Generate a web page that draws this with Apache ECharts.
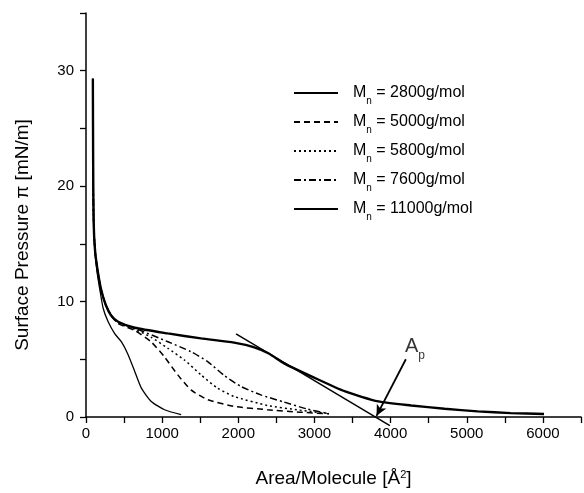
<!DOCTYPE html>
<html>
<head>
<meta charset="utf-8">
<script src="https://cdn.jsdelivr.net/npm/echarts@6/dist/echarts.min.js"></script>
<style>
  html, body { margin: 0; padding: 0; background: #fff; }
  #chart { width: 584px; height: 493px; }
</style>
</head>
<body>
<div id="chart"></div>
<script>
// isotherm data, [area (Å²), pressure (mN/m)]
const mn2800 = [[90, 29.3], [94, 22], [100, 17], [115, 14.5], [145, 12.6], [185, 10.9], [226, 9.4], [291, 8.25], [379, 7.2], [466, 6.5], [553, 5.4], [640, 3.95], [727, 2.5], [857, 1.35], [1031, 0.63], [1249, 0.2]]
const mn5000 = [[90, 29.3], [94, 22], [100, 17], [118, 14.5], [150, 12.8], [200, 11.0], [260, 9.7], [330, 8.8], [422, 8.1], [640, 7.5], [857, 6.5], [1031, 5.2], [1205, 3.65], [1379, 2.35], [1597, 1.5], [1945, 0.92], [2380, 0.63], [2800, 0.42], [3190, 0.28]]
const mn5800 = [[90, 29.3], [94, 22], [100, 17], [118, 14.5], [150, 12.8], [200, 11.0], [260, 9.7], [330, 8.8], [422, 8.15], [640, 7.6], [857, 6.9], [1075, 5.95], [1292, 4.94], [1510, 3.65], [1727, 2.5], [1945, 1.78], [2380, 1.0], [2800, 0.6], [3190, 0.3]]
const mn7600 = [[90, 29.3], [94, 22], [100, 17], [118, 14.5], [150, 12.8], [200, 11.0], [260, 9.7], [330, 8.8], [422, 8.2], [640, 7.7], [1075, 6.52], [1379, 5.66], [1597, 4.8], [1815, 3.6], [2033, 2.65], [2294, 1.92], [2598, 1.3], [2900, 0.7], [3190, 0.28]]
const mn11000 = [[90, 29.3], [94, 22], [100, 17], [118, 14.5], [150, 12.8], [200, 11.0], [260, 9.7], [330, 8.8], [422, 8.25], [640, 7.73], [1075, 7.24], [1510, 6.81], [1945, 6.44], [2200, 6.05], [2400, 5.5], [2600, 4.65], [2967, 3.5], [3403, 2.21], [3838, 1.35], [4270, 1.0], [4709, 0.72], [5144, 0.49], [5577, 0.34], [6014, 0.26]]
const tangent = [[1970, 7.2], [3990, -0.75]]
const arrowFrom = [4200, 5.0]
const arrowTo = [3815, 0.1]
const apLabelAt = [4320, 6.1]

const seriesNames = ['Mn = 2800g/mol', 'Mn = 5000g/mol', 'Mn = 5800g/mol', 'Mn = 7600g/mol', 'Mn = 11000g/mol']

const chart = echarts.init(document.getElementById('chart'))

const font = 'Liberation Sans, Arial, Helvetica, sans-serif'

const mkLine = (name, data, width, type) => ({
  name,
  type: 'line',
  data,
  showSymbol: false,
  symbol: 'none',
  smooth: 0.2,
  lineStyle: { color: '#000', width, type },
  itemStyle: { color: '#000' },
  z: 3
})

const option = {
  animation: false,
  textStyle: { fontFamily: font, color: '#000' },
  grid: { left: 86, right: 0, top: 13, bottom: 74 },
  legend: {
    orient: 'vertical',
    left: 293,
    top: 85,
    padding: 0,
    itemWidth: 44,
    itemHeight: 14,
    itemGap: 8,
    data: seriesNames,
    itemStyle: { opacity: 0, borderWidth: 0 },
    formatter: name => '{g|}{m|M}{s|n}{m|' + name.slice(2) + '}',
    textStyle: {
      fontFamily: font,
      fontSize: 16,
      color: '#000',
      rich: {
        g: { width: 10 },
        m: { fontSize: 16, fontFamily: font, color: '#000' },
        s: { fontSize: 10, fontFamily: font, color: '#000', verticalAlign: 'bottom', lineHeight: 26 }
      }
    }
  },
  xAxis: {
    type: 'value',
    min: 0,
    max: 6500,
    interval: 500,
    name: 'Area/Molecule [Å{sup|2}]',
    nameLocation: 'middle',
    nameGap: 52,
    nameTextStyle: {
      fontSize: 19, fontFamily: font, color: '#000',
      rich: { sup: { fontSize: 11, fontFamily: font, color: '#000', verticalAlign: 'top' } }
    },
    axisLine: { onZero: false, lineStyle: { color: '#000', width: 1.5 } },
    axisTick: { length: 6, lineStyle: { color: '#000', width: 1.3 } },
    axisLabel: {
      fontSize: 15, fontFamily: font, color: '#000', margin: 9,
      formatter: v => (v % 1000 === 0 ? String(v) : '')
    },
    splitLine: { show: false }
  },
  yAxis: {
    type: 'value',
    min: 0,
    max: 35,
    interval: 5,
    name: 'Surface Pressure π [mN/m]',
    nameLocation: 'middle',
    nameGap: 54,
    nameTextStyle: { fontSize: 19, fontFamily: font, color: '#000', padding: [0, 40, 0, 0] },
    axisLine: { show: true, lineStyle: { color: '#000', width: 1.5 } },
    axisTick: { length: 6, lineStyle: { color: '#000', width: 1.3 } },
    axisLabel: {
      fontSize: 15, fontFamily: font, color: '#000', margin: 12,
      formatter: v => (v % 10 === 0 ? String(v) : '')
    },
    splitLine: { show: false }
  },
  series: [
    mkLine(seriesNames[0], mn2800, 1.3, 'solid'),
    mkLine(seriesNames[1], mn5000, 1.5, [6, 4]),
    mkLine(seriesNames[2], mn5800, 1.5, [2, 3]),
    mkLine(seriesNames[3], mn7600, 1.5, [7, 3, 2, 3]),
    mkLine(seriesNames[4], mn11000, 2.4, 'solid'),
    {
      name: 'tangent',
      type: 'line',
      data: tangent,
      showSymbol: false,
      symbol: 'none',
      clip: false,
      lineStyle: { color: '#000', width: 1.5 },
      markLine: {
        silent: true,
        symbol: ['none', 'arrow'],
        symbolSize: [8, 11],
        label: { show: false },
        lineStyle: { color: '#000', width: 1.8, type: 'solid' },
        data: [[{ coord: arrowFrom }, { coord: arrowTo }]]
      }
    },
    {
      name: 'Ap',
      type: 'scatter',
      data: [apLabelAt],
      symbolSize: 1,
      itemStyle: { color: 'rgba(0,0,0,0)' },
      silent: true,
      label: {
        show: true,
        position: 'inside',
        formatter: '{a|A}{p|p}',
        rich: {
          a: { fontSize: 20, fontFamily: font, color: '#000' },
          p: { fontSize: 12, fontFamily: font, color: '#000', verticalAlign: 'bottom', lineHeight: 30 }
        }
      }
    }
  ]
}

chart.setOption(option)
</script>
</body>
</html>
